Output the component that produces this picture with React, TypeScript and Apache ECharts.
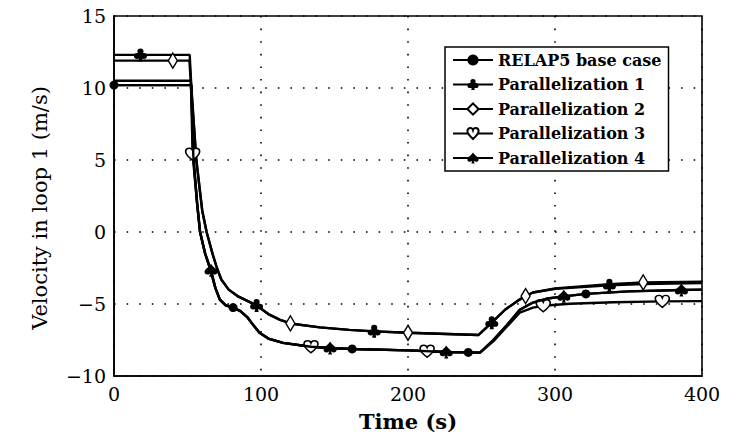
import React, { useEffect, useRef } from "react";
import * as echarts from "echarts";

const FONT = "'DejaVu Serif', 'Liberation Serif', serif";

const seriesNames = [
  "RELAP5 base case",
  "Parallelization 1",
  "Parallelization 2",
  "Parallelization 3",
  "Parallelization 4",
];

const xTicks = [0, 100, 200, 300, 400];
const yTicks = [-10, -5, 0, 5, 10, 15];

// [time (s), velocity (m/s)]
const relap5Curve: [number, number][] = [
  [0, 10.2], [52.5, 10.2], [54, 5.2], [56.5, 2], [58.5, 0], [62, -1.5], [65.5, -2.6],
  [69, -3.9], [72, -4.7], [76, -5.1], [81, -5.25], [86, -5.5], [91, -5.95], [95, -6.5],
  [99, -7.0], [105, -7.4], [115, -7.7], [134, -7.97], [147, -8.06], [162, -8.12],
  [200, -8.22], [226, -8.33], [241, -8.36], [249, -8.38], [258, -7.5], [267, -6.5],
  [276, -5.4], [285, -4.9], [295, -4.62], [306, -4.47], [321, -4.3], [350, -4.12],
  [386, -4.03], [400, -4.0],
];
const relap5Marks = [0, 81, 162, 241, 321];

const par1Curve: [number, number][] = [
  [0, 12.3], [18, 12.3], [51.5, 12.3], [52.5, 10.3], [56, 5], [60, 1.5], [63, 0],
  [67, -1.5], [70, -2.5], [73, -3.3], [78, -4.0], [84, -4.45], [90, -4.75], [97, -5.1],
  [105, -5.7], [113, -6.1], [120, -6.35], [140, -6.62], [160, -6.8], [177, -6.9],
  [200, -7.0], [248, -7.15], [257, -6.3], [266, -5.4], [275, -4.75], [280, -4.45],
  [285, -4.2], [300, -3.95], [337, -3.7], [360, -3.62], [400, -3.55],
];
const par1Marks = [18, 97, 177, 257, 337];

const par2Curve: [number, number][] = [
  [0, 11.9], [40, 11.9], [51.3, 11.9], [52.3, 10.3], [56, 5], [60, 1.5], [63, 0],
  [67, -1.5], [70, -2.5], [73, -3.3], [78, -4.0], [84, -4.45], [90, -4.75], [97, -5.1],
  [105, -5.7], [113, -6.1], [120, -6.35], [140, -6.62], [160, -6.8], [177, -6.9],
  [200, -7.0], [248, -7.15], [257, -6.3], [266, -5.4], [275, -4.75], [280, -4.45],
  [285, -4.2], [300, -3.92], [337, -3.62], [360, -3.5], [400, -3.45],
];
const par2Marks = [40, 120, 200, 280, 360];

const par3Curve: [number, number][] = [
  [0, 10.5], [52.3, 10.5], [53.5, 5.4], [56.5, 2], [58.5, 0], [62, -1.5], [65.5, -2.6],
  [69, -3.9], [72, -4.7], [76, -5.1], [81, -5.25], [86, -5.5], [91, -5.95], [95, -6.5],
  [99, -7.0], [105, -7.4], [115, -7.7], [134, -7.97], [147, -8.06], [162, -8.12],
  [200, -8.22], [213, -8.28], [226, -8.33], [249, -8.38], [258, -7.6], [267, -6.6],
  [276, -5.6], [285, -5.25], [292, -5.12], [310, -4.98], [340, -4.88], [373, -4.82],
  [400, -4.8],
];
const par3Marks = [53.5, 134, 213, 292, 373];

const par4Curve: [number, number][] = [
  [0, 10.2], [52.6, 10.2], [54, 5.2], [56.6, 2], [58.6, 0], [62, -1.5], [66, -2.65],
  [69, -3.9], [72, -4.7], [76, -5.1], [81, -5.25], [86, -5.5], [91, -5.95], [95, -6.5],
  [99, -7.0], [105, -7.4], [115, -7.7], [134, -7.97], [147, -8.06], [162, -8.12],
  [200, -8.22], [226, -8.33], [249, -8.38], [258, -7.5], [267, -6.5], [276, -5.4],
  [285, -4.9], [295, -4.62], [306, -4.47], [321, -4.3], [350, -4.12], [386, -4.03],
  [400, -4.0],
];
const par4Marks = [66, 147, 226, 306, 386];

const CLUB =
  "path://M30,30 A20,20 0 1,1 70,30 A20,20 0 1,1 30,30 Z M8,62 A20,20 0 1,1 48,62 A20,20 0 1,1 8,62 Z M52,62 A20,20 0 1,1 92,62 A20,20 0 1,1 52,62 Z M44,55 L56,55 L63,98 L37,98 Z";
const SPADE =
  "path://M50,2 C35,28 4,42 4,64 C4,82 26,90 44,74 L36,98 L64,98 L56,74 C74,90 96,82 96,64 C96,42 65,28 50,2 Z";
const HEART =
  "path://M50,92 C22,68 4,52 4,30 C4,13 17,5 29,5 C40,5 47,12 50,22 C53,12 60,5 71,5 C83,5 96,13 96,30 C96,52 78,68 50,92 Z";

const defs = [
  { curve: relap5Curve, marks: relap5Marks, symbol: "circle", size: 9, fill: "#000" },
  { curve: par1Curve, marks: par1Marks, symbol: CLUB, size: 13, fill: "#000" },
  { curve: par2Curve, marks: par2Marks, symbol: "diamond", size: [9, 15], fill: "#fff" },
  { curve: par3Curve, marks: par3Marks, symbol: HEART, size: [14, 12], fill: "#fff" },
  { curve: par4Curve, marks: par4Marks, symbol: SPADE, size: 13, fill: "#000" },
];

const minus = (v: number) => (v < 0 ? "\u2212" + Math.abs(v) : String(v));

export default function App() {
  const ref = useRef<HTMLDivElement>(null);
  useEffect(() => {
    const chart = echarts.init(ref.current!, null, { renderer: "svg" });
    const series = defs.map((d, i) => ({
      type: "line",
      name: seriesNames[i],
      symbol: d.symbol,
      symbolSize: d.size,
      showSymbol: true,
      showAllSymbol: true,
      symbolKeepAspect: false,
      z: 3 + i,
      lineStyle: { color: "#000", width: 2.4 },
      itemStyle: {
        color: d.fill,
        borderColor: "#000",
        borderWidth: d.fill === "#fff" ? 1.5 : 0,
      },
      emphasis: { disabled: true },
      data: d.curve.map(([t, v]) => ({
        value: [t, v],
        symbol: d.marks.includes(t) ? d.symbol : "none",
      })),
    }));
    chart.setOption({
      animation: false,
      backgroundColor: "#fff",
      textStyle: { fontFamily: FONT },
      grid: {
        left: 114,
        right: 30,
        top: 16,
        bottom: 69,
        show: true,
        borderColor: "#000",
        borderWidth: 1.6,
        backgroundColor: "transparent",
      },
      xAxis: {
        type: "value",
        min: xTicks[0],
        max: xTicks[xTicks.length - 1],
        interval: 100,
        name: "Time (s)",
        nameLocation: "middle",
        nameGap: 35,
        nameTextStyle: { fontFamily: FONT, fontSize: 21, fontWeight: "bold", color: "#000" },
        axisLine: { show: true, onZero: false, lineStyle: { color: "#000", width: 1.6 } },
        axisTick: { show: false },
        axisLabel: { fontFamily: FONT, fontSize: 19, color: "#000", margin: 8 },
        splitLine: {
          show: true,
          lineStyle: { color: "#000", width: 1.6, type: [1.6, 11] },
        },
      },
      yAxis: {
        type: "value",
        min: yTicks[0],
        max: yTicks[yTicks.length - 1],
        interval: 5,
        axisLine: { show: true, onZero: false, lineStyle: { color: "#000", width: 1.6 } },
        axisTick: { show: false },
        axisLabel: {
          fontFamily: FONT,
          fontSize: 19,
          color: "#000",
          margin: 8,
          formatter: (v: number) => minus(v),
        },
        splitLine: {
          show: true,
          lineStyle: { color: "#000", width: 1.6, type: [1.6, 11] },
        },
      },
      graphic: [
        {
          type: "text",
          x: 40,
          y: 208,
          rotation: Math.PI / 2,
          style: {
            text: "Velocity in loop 1 (m/s)",
            fontFamily: FONT,
            fontSize: 21,
            fill: "#000",
            align: "center",
            verticalAlign: "middle",
          },
        },
      ],
      legend: {
        orient: "vertical",
        left: 445,
        top: 47,
        data: seriesNames,
        itemWidth: 40,
        itemHeight: 14,
        itemGap: 8.5,
        padding: [5, 7, 5, 7],
        borderColor: "#000",
        borderWidth: 1.5,
        backgroundColor: "#fff",
        textStyle: { fontFamily: FONT, fontWeight: "bold", fontSize: 16, color: "#000" },
      },
      series,
    });
    return () => chart.dispose();
  }, []);
  return (
    <div
      ref={ref}
      style={{ position: "absolute", left: 0, top: 0, width: 732, height: 445 }}
    />
  );
}
